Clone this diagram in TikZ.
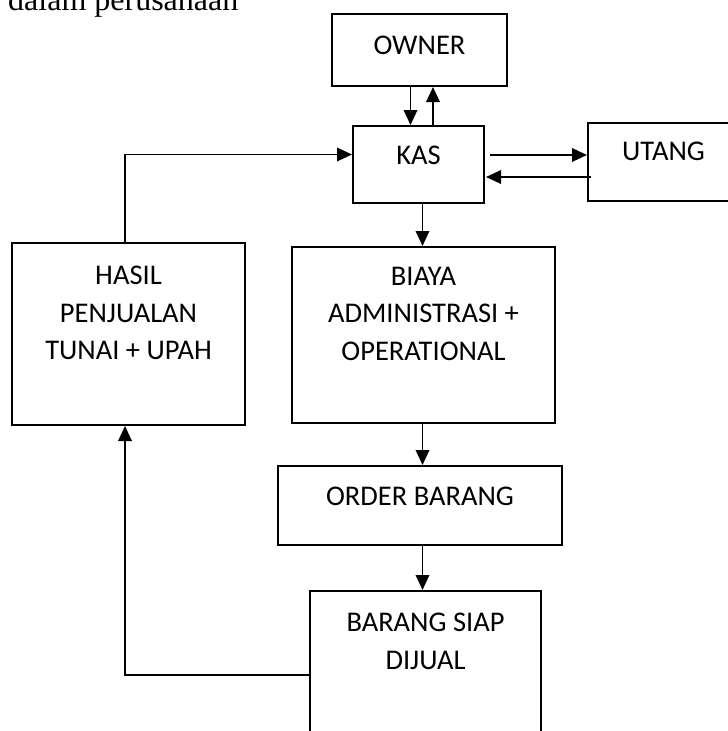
\documentclass[tikz,border=0pt]{standalone}
\usepackage{fontspec}
\setmainfont{Carlito}
\newfontfamily\headfont{Liberation Serif}
\usetikzlibrary{arrows.meta, positioning}
\tikzset{
  box/.style n args={2}{draw, line width=2pt, minimum width=#1,
    minimum height=#2, inner sep=0pt},
  boxtext/.style={font=\fontsize{28.5}{37.5}\selectfont, align=center,
    inner sep=0pt},
  flow/.style={-{Triangle[length=15pt,width=13.5pt]}, line width=1.8pt}
}

\begin{document}
\begin{tikzpicture}[x=1pt, y=-1pt]
  \useasboundingbox (0,0) rectangle (728,731);
  \clip (0,0) rectangle (728,731);

  \node[anchor=base west, inner sep=0pt,
    font=\headfont\fontsize{32}{38}\selectfont] (heading) at (8,10)
    {dalam perusahaan};

  % boxes
  \node[box={175pt}{72pt}] (owner) at (419.5,50) {};
  \node[box={131pt}{77pt}] (kas) at (418.5,164.5) {};
  \node[box={151pt}{78pt}] (utang) at (663.5,162) {};
  \node[box={233pt}{182pt}] (hasil) at (128.5,334) {};
  \node[box={263pt}{176pt}] (biaya) at (423.5,335) {};
  \node[box={284pt}{79pt}] (order) at (420,505.5) {};
  \node[box={231pt}{180pt}] (barang) at (425.5,681) {};

  % texts
  \node[boxtext, below=23pt of owner.north] (ownertxt) {OWNER};
  \node[boxtext, below=21pt of kas.north] (kastxt) {KAS};
  \node[boxtext, below=20pt of utang.north] (utangtxt) {UTANG};
  \node[boxtext, below=24pt of hasil.north] (hasiltxt)
    {HASIL\\PENJUALAN\\TUNAI + UPAH};
  \node[boxtext, below=21pt of biaya.north] (biayatxt)
    {BIAYA\\ADMINISTRASI +\\OPERATIONAL};
  \node[boxtext, below=22pt of order.north] (ordertxt) {ORDER BARANG};
  \node[boxtext, below=23pt of barang.north] (barangtxt)
    {BARANG SIAP\\DIJUAL};

  % arrows
  \coordinate (spine) at (422.5,0);
  \draw[flow] ([xshift=-9pt]owner.south) -- ([xshift=-8pt]kas.north);
  \draw[flow] ([xshift=14.5pt]kas.north) -- ([xshift=13.5pt]owner.south);
  \draw[flow] ([xshift=5pt,yshift=9.5pt]kas.east) -- ([yshift=7pt]utang.west);
  \draw[flow] ([xshift=4pt,yshift=-15pt]utang.west)
    -- ([xshift=1pt,yshift=-12.5pt]kas.east);
  \draw[flow] ([xshift=-3.5pt]hasil.north) |- ([yshift=10pt]kas.west);
  \draw[flow] (kas.south -| spine) -- (biaya.north -| spine);
  \draw[flow] (biaya.south -| spine) -- (order.north -| spine);
  \draw[flow] (order.south -| spine) -- (barang.north -| spine);
  \draw[flow] ([yshift=6pt]barang.west) -| ([xshift=-3.5pt]hasil.south);
\end{tikzpicture}
\end{document}
